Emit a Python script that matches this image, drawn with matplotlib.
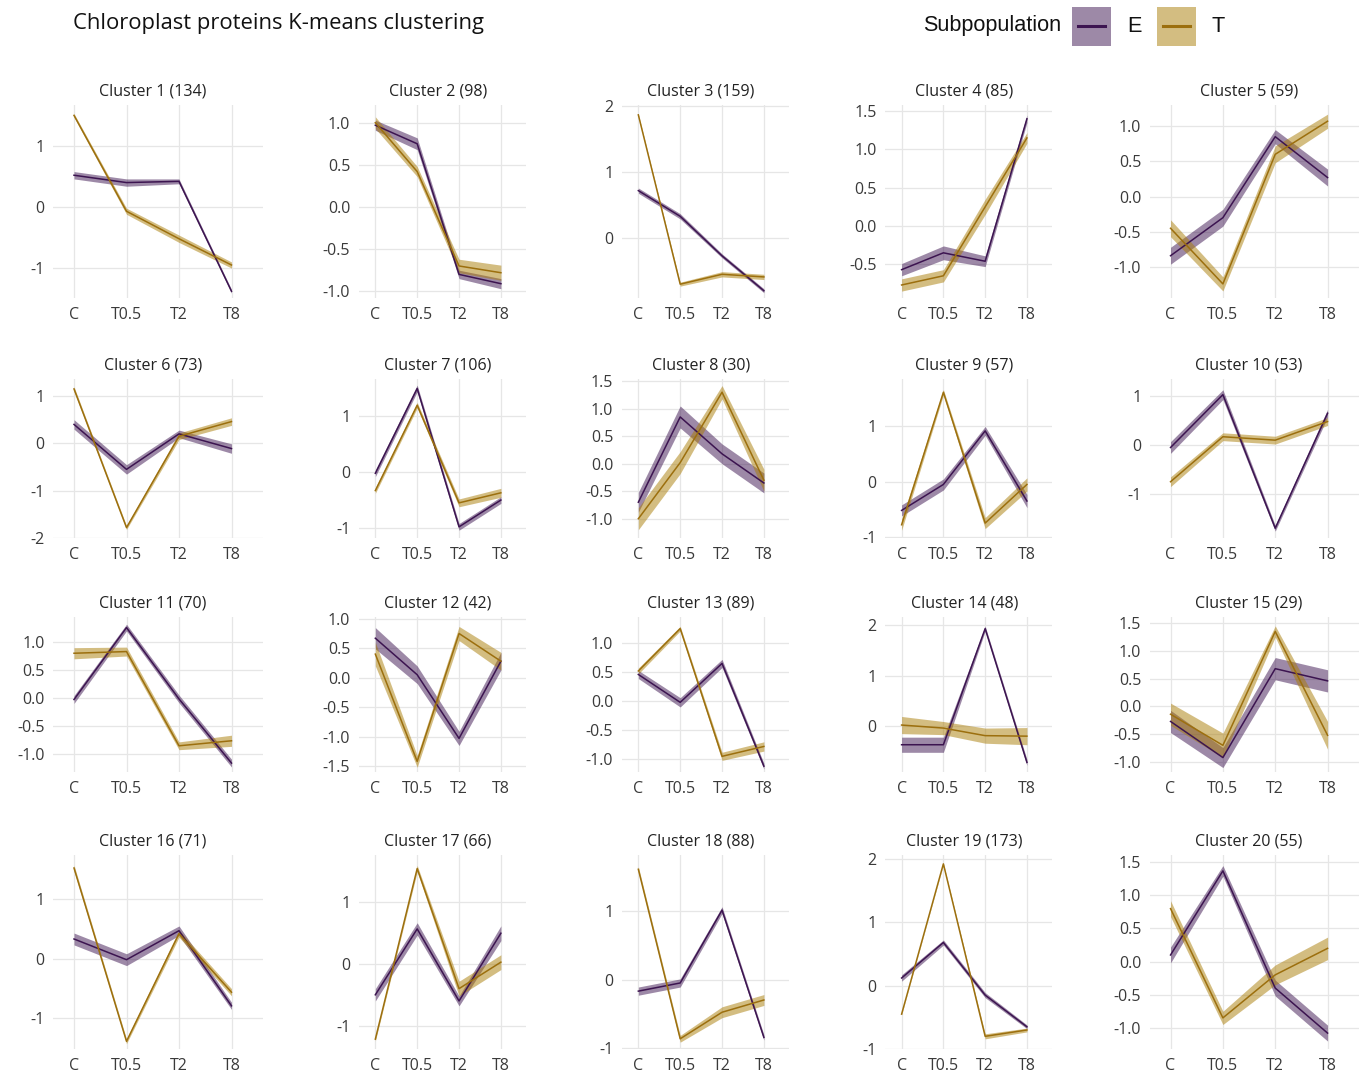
import matplotlib
matplotlib.use("Agg")
import matplotlib.pyplot as plt
from matplotlib.patches import Rectangle
from matplotlib.lines import Line2D

plt.rcParams['font.family'] = ['Open Sans', 'DejaVu Sans']

timepoints = ["C", "T0.5", "T2", "T8"]
cluster_sizes = [134, 98, 159, 85, 59, 73, 106, 30, 57, 53,
                 70, 42, 89, 48, 29, 71, 66, 88, 173, 55]

# mean profile and ribbon half-width for subpopulation E
e_mean = [
    [0.52, 0.40, 0.42, -1.38], [0.97, 0.75, -0.80, -0.91], [0.72, 0.33, -0.27, -0.80],
    [-0.57, -0.35, -0.46, 1.40], [-0.84, -0.30, 0.85, 0.27], [0.40, -0.55, 0.20, -0.11],
    [-0.02, 1.50, -0.98, -0.50], [-0.70, 0.85, 0.18, -0.35], [-0.52, -0.05, 0.92, -0.35],
    [-0.05, 1.03, -1.70, 0.65], [-0.03, 1.26, -0.02, -1.17], [0.67, 0.05, -1.03, 0.28],
    [0.46, -0.02, 0.65, -1.12], [-0.37, -0.37, 1.93, -0.72], [-0.27, -0.92, 0.68, 0.46],
    [0.33, -0.02, 0.47, -0.80], [-0.50, 0.57, -0.60, 0.50], [-0.17, -0.05, 1.02, -0.85],
    [0.12, 0.68, -0.15, -0.65], [0.10, 1.37, -0.40, -1.08],
]
e_err = [
    [0.06, 0.06, 0.04, 0.03], [0.06, 0.07, 0.05, 0.06], [0.04, 0.04, 0.03, 0.03],
    [0.08, 0.09, 0.07, 0.05], [0.12, 0.12, 0.10, 0.12], [0.10, 0.10, 0.08, 0.10],
    [0.06, 0.06, 0.06, 0.06], [0.18, 0.20, 0.18, 0.18], [0.10, 0.10, 0.08, 0.12],
    [0.12, 0.10, 0.06, 0.08], [0.07, 0.06, 0.07, 0.07], [0.18, 0.15, 0.12, 0.15],
    [0.07, 0.08, 0.07, 0.05], [0.15, 0.15, 0.05, 0.06], [0.20, 0.18, 0.20, 0.20],
    [0.10, 0.10, 0.08, 0.06], [0.10, 0.10, 0.08, 0.12], [0.06, 0.06, 0.05, 0.04],
    [0.05, 0.04, 0.04, 0.03], [0.12, 0.08, 0.12, 0.12],
]

# mean profile and ribbon half-width for subpopulation T
t_mean = [
    [1.50, -0.07, -0.52, -0.95], [1.00, 0.42, -0.70, -0.78], [1.87, -0.70, -0.55, -0.59],
    [-0.77, -0.65, 0.25, 1.15], [-0.45, -1.24, 0.60, 1.07], [1.15, -1.78, 0.15, 0.46],
    [-0.33, 1.20, -0.55, -0.37], [-1.00, 0.02, 1.30, -0.30], [-0.78, 1.62, -0.75, -0.05],
    [-0.75, 0.17, 0.10, 0.48], [0.80, 0.83, -0.86, -0.77], [0.40, -1.42, 0.75, 0.28],
    [0.52, 1.25, -0.95, -0.78], [0.02, -0.04, -0.19, -0.20], [-0.14, -0.70, 1.35, -0.52],
    [1.53, -1.40, 0.42, -0.57], [-1.22, 1.55, -0.40, 0.03], [1.62, -0.87, -0.48, -0.30],
    [-0.45, 1.92, -0.80, -0.70], [0.80, -0.85, -0.20, 0.20],
]
t_err = [
    [0.03, 0.05, 0.06, 0.05], [0.07, 0.06, 0.08, 0.09], [0.01, 0.03, 0.04, 0.04],
    [0.08, 0.08, 0.10, 0.07], [0.12, 0.10, 0.12, 0.10], [0.05, 0.04, 0.07, 0.08],
    [0.05, 0.05, 0.07, 0.08], [0.20, 0.20, 0.12, 0.20], [0.10, 0.05, 0.10, 0.12],
    [0.10, 0.08, 0.08, 0.08], [0.10, 0.08, 0.07, 0.10], [0.20, 0.10, 0.12, 0.15],
    [0.05, 0.04, 0.07, 0.08], [0.17, 0.13, 0.15, 0.17], [0.20, 0.22, 0.10, 0.25],
    [0.05, 0.04, 0.06, 0.06], [0.03, 0.05, 0.12, 0.12], [0.04, 0.05, 0.08, 0.08],
    [0.01, 0.01, 0.04, 0.03], [0.12, 0.10, 0.15, 0.17],
]

y_ticks = [
    [-1, 0, 1], [-1.0, -0.5, 0.0, 0.5, 1.0], [0, 1, 2], [-0.5, 0.0, 0.5, 1.0, 1.5],
    [-1.0, -0.5, 0.0, 0.5, 1.0], [-2, -1, 0, 1], [-1, 0, 1],
    [-1.0, -0.5, 0.0, 0.5, 1.0, 1.5], [-1, 0, 1], [-1, 0, 1],
    [-1.0, -0.5, 0.0, 0.5, 1.0], [-1.5, -1.0, -0.5, 0.0, 0.5, 1.0],
    [-1.0, -0.5, 0.0, 0.5, 1.0], [0, 1, 2], [-1.0, -0.5, 0.0, 0.5, 1.0, 1.5],
    [-1, 0, 1], [-1, 0, 1], [-1, 0, 1], [-1, 0, 1, 2], [-1.0, -0.5, 0.0, 0.5, 1.0, 1.5],
]
y_limits = [
    (-1.49, 1.67), (-1.08, 1.21), (-0.91, 2.02), (-0.94, 1.58), (-1.44, 1.30),
    (-2.0, 1.36), (-1.18, 1.67), (-1.35, 1.54), (-1.02, 1.86), (-1.90, 1.35),
    (-1.33, 1.45), (-1.60, 1.03), (-1.22, 1.45), (-0.91, 2.16), (-1.18, 1.61),
    (-1.53, 1.75), (-1.38, 1.77), (-1.02, 1.83), (-1.00, 2.06), (-1.32, 1.61),
]

E_LINE, E_FILL = "#3c1450", "#3c1450"
T_LINE, T_FILL = "#9c6f0e", "#a97c05"
GRID = "#e6e6e6"
TICK = "#3a3a3a"

W, H = 1360, 1072
fig = plt.figure(figsize=(W / 100, H / 100), dpi=100)

# panel boxes in pixels
col_left = [53, 358.6, 621.6, 884.9, 1149.6]
col_right = [263, 526, 789, 1052, 1359]
row_top = [105, 379, 617, 855]
row_bottom = [298, 538, 772, 1049]

x = list(range(len(timepoints)))

for i in range(20):
    r, c = divmod(i, 5)
    l, rr = col_left[c], col_right[c]
    t, b = row_top[r], row_bottom[r]
    ax = fig.add_axes([l / W, 1 - b / H, (rr - l) / W, (b - t) / H])

    for mean, err, lc, fc in ((e_mean[i], e_err[i], E_LINE, E_FILL),
                              (t_mean[i], t_err[i], T_LINE, T_FILL)):
        lo = [m - e for m, e in zip(mean, err)]
        hi = [m + e for m, e in zip(mean, err)]
        ax.fill_between(x, lo, hi, color=fc, alpha=0.5, linewidth=0, zorder=2)
    ax.plot(x, e_mean[i], color=E_LINE, lw=1.1, zorder=3)
    ax.plot(x, t_mean[i], color=T_LINE, lw=1.1, zorder=3)

    ax.set_xlim(-0.4, 3.6)
    ax.set_ylim(*y_limits[i])
    ax.set_xticks(x)
    ax.set_xticklabels(timepoints)
    ticks = y_ticks[i]
    ax.set_yticks(ticks)
    if any(isinstance(v, float) for v in ticks):
        ax.set_yticklabels([f"{v:.1f}" for v in ticks])
    else:
        ax.set_yticklabels([f"{v:d}" for v in ticks])
    ax.tick_params(length=0, labelsize=11.5, colors=TICK)
    ax.tick_params(axis="x", pad=6.5)
    ax.tick_params(axis="y", pad=6)
    ax.grid(True, color=GRID, lw=0.9, zorder=0)
    ax.set_axisbelow(True)
    for s in ax.spines.values():
        s.set_visible(False)

    ax.annotate(f"Cluster {i + 1} ({cluster_sizes[i]})", xy=(1.5, 1.0),
                xycoords=("data", "axes fraction"), xytext=(0, 10),
                textcoords="offset points", ha="center", va="center",
                fontsize=11.5, color="#222222")

fig.text(73 / W, 1 - 23 / H, "Chloroplast proteins K-means clustering",
         ha="left", va="center", fontsize=15.8, color="#111111")

# legend
fig.text(1061 / W, 1 - 26 / H, "Subpopulation", ha="right", va="center",
         fontsize=15.6, family="Liberation Sans", color="#111111")
for x0, lc, fc, lab in ((1072, E_LINE, E_FILL, "E"), (1157, T_LINE, T_FILL, "T")):
    fig.add_artist(Rectangle((x0 / W, 1 - 46 / H), 39 / W, 39 / H, color=fc,
                             alpha=0.5, lw=0, transform=fig.transFigure))
    fig.add_artist(Line2D([(x0 + 6) / W, (x0 + 33) / W], [1 - 26 / H, 1 - 26 / H],
                          color=lc, lw=2.2, transform=fig.transFigure))
    fig.text((x0 + 55) / W, 1 - 26 / H, lab, ha="left", va="center",
             fontsize=15.6, family="Liberation Sans", color="#111111")

fig.savefig("out.png", dpi=100)
